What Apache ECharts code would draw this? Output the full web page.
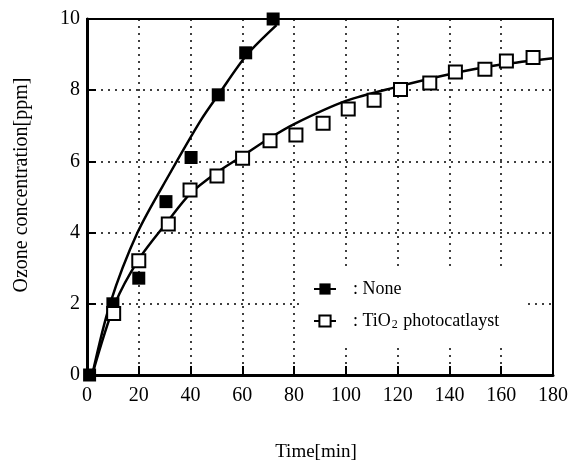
<!DOCTYPE html>
<html>
<head>
<meta charset="utf-8">
<script src="https://cdn.jsdelivr.net/npm/echarts@6/dist/echarts.min.js"></script>
<style>
html,body{margin:0;padding:0;background:#fff;}
#c{width:574px;height:468px;}
</style>
</head>
<body>
<div id="c"></div>
<script>
// Measured markers
const noneX = [1, 10, 20, 30.5, 40.2, 50.7, 61.3, 71.9];
const noneY = [0, 2.0, 2.72, 4.87, 6.11, 7.87, 9.05, 10.0];
const tioX = [10.3, 20, 31.4, 39.8, 50.2, 60.1, 70.7, 80.7, 91.2, 100.9, 110.9, 121.1, 132.4, 142.3, 153.7, 162, 172.3, 180.3];
const tioY = [1.73, 3.21, 4.24, 5.2, 5.59, 6.09, 6.58, 6.74, 7.07, 7.47, 7.72, 8.02, 8.2, 8.51, 8.59, 8.82, 8.92, 9.02];
// Fitted curves
const noneCurveX = [2, 8.9, 19.5, 32, 44, 51, 61.7, 73.2];
const noneCurveY = [0, 2.0, 4.0, 5.66, 7.16, 7.9, 8.99, 9.83];
const tioCurveX = [2, 10.8, 20, 31, 40, 50, 60, 70, 80, 100, 120, 140, 160, 180];
const tioCurveY = [0, 2.0, 3.25, 4.3, 5.1, 5.68, 6.15, 6.63, 7.05, 7.7, 8.1, 8.45, 8.72, 8.9];
const xTicks = [0, 180, 20];
const yTicks = [0, 10, 2];
const nameNone = 'None';
const nameTio = 'TiO2 photocatlayst';
const yTitle = 'Ozone concentration[ppm]';
const xTitle = 'Time[min]';

const zip = (a, b) => a.map((v, i) => [v, b[i]]);
const font = 'Liberation Serif, Times New Roman, serif';

const chart = echarts.init(document.getElementById('c'), null, {renderer: 'canvas'});
chart.setOption({
  animation: false,
  backgroundColor: '#fff',
  grid: {left: 87, right: 21, top: 19, bottom: 93, show: true, borderColor: '#000', borderWidth: 2, backgroundColor: 'transparent'},
  graphic: [{
    type: 'text', x: 22, y: 185, rotation: Math.PI / 2,
    style: {text: yTitle, fontFamily: font, fontSize: 20, fill: '#000', textAlign: 'center', textVerticalAlign: 'middle'}
  }],
  xAxis: {
    type: 'value', min: xTicks[0], max: xTicks[1], interval: xTicks[2],
    name: xTitle, nameLocation: 'middle', nameGap: 68,
    nameTextStyle: {fontFamily: font, fontSize: 19, color: '#000', padding: [0, 8, 0, 0]},
    axisLine: {show: true, lineStyle: {color: '#000', width: 3}},
    axisTick: {show: true, inside: true, length: 9, lineStyle: {color: '#000', width: 2}},
    axisLabel: {fontFamily: font, fontSize: 20, color: '#000', margin: 11},
    splitLine: {show: true, lineStyle: {color: '#000', type: [2, 5], width: 1.5}}
  },
  yAxis: {
    type: 'value', min: yTicks[0], max: yTicks[1], interval: yTicks[2],
    axisLine: {show: true, lineStyle: {color: '#000', width: 3}},
    axisTick: {show: true, inside: true, length: 9, lineStyle: {color: '#000', width: 2}},
    axisLabel: {fontFamily: font, fontSize: 20, color: '#000', margin: 7},
    splitLine: {show: true, lineStyle: {color: '#000', type: [2, 5], width: 1.5}}
  },
  legend: {
    show: true, orient: 'vertical', left: 303, top: 267,
    padding: [13, 26, 14, 10], itemGap: 14, itemWidth: 22, itemHeight: 14,
    backgroundColor: '#fff',
    data: [nameNone, nameTio],
    formatter: function (n) {
      if (n === nameTio) return '{t|: TiO}{s|2}{t| photocatlayst}';
      return '{t|: ' + n + '}';
    },
    textStyle: {
      fontFamily: font, fontSize: 18, color: '#000', padding: [0, 0, 0, 12],
      rich: {
        t: {fontFamily: font, fontSize: 18, color: '#000'},
        s: {fontFamily: font, fontSize: 12, color: '#000', padding: [7, 1, 0, 1]}
      }
    }
  },
  series: [
    {name: nameNone, type: 'line', data: zip(noneCurveX, noneCurveY), smooth: 0.3, showSymbol: false, symbol: 'rect',
     lineStyle: {color: '#000', width: 2.5}, itemStyle: {color: '#000'}, z: 3},
    {name: nameTio, type: 'line', data: zip(tioCurveX, tioCurveY), smooth: 0.3, showSymbol: false, symbol: 'emptyRect',
     lineStyle: {color: '#000', width: 2.5}, itemStyle: {color: '#000'}, z: 3},
    {name: nameNone, type: 'scatter', data: zip(noneX, noneY), symbol: 'rect', symbolSize: 13,
     itemStyle: {color: '#000', opacity: 1}, z: 4},
    {name: nameTio, type: 'scatter', data: zip(tioX, tioY), symbol: 'rect', symbolSize: 13,
     itemStyle: {color: '#fff', borderColor: '#000', borderWidth: 2, opacity: 1}, z: 5}
  ]
});
</script>
</body>
</html>
